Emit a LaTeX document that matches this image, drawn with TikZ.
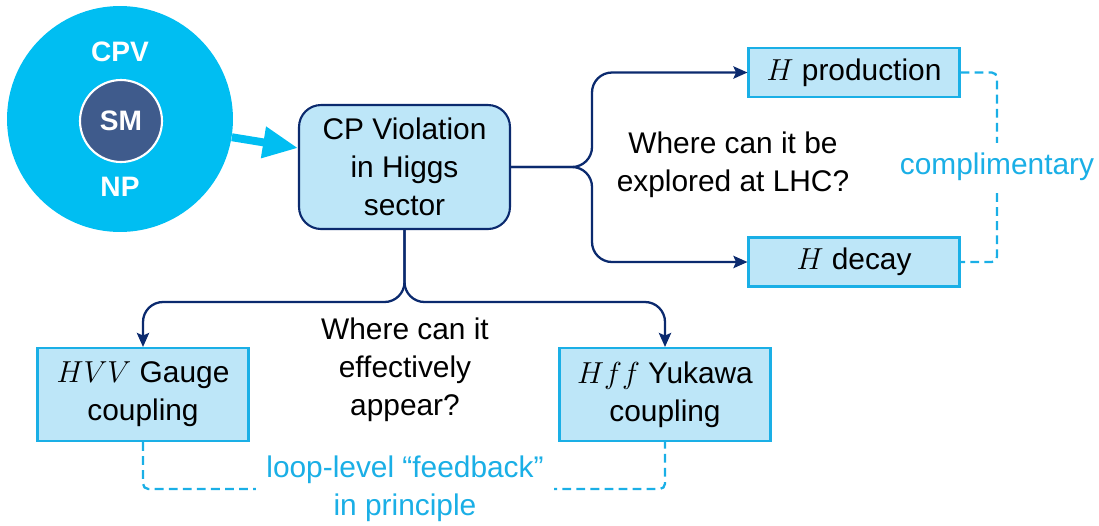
\documentclass[tikz,border=0pt]{standalone}
\usepackage{fontspec}
\setmainfont{Liberation Sans}
\usetikzlibrary{arrows.meta}

\definecolor{npcyan}{HTML}{00BEF2}
\definecolor{boxfill}{HTML}{BDE6F8}
\definecolor{navy}{HTML}{0B2A6E}
\definecolor{smblue}{HTML}{3F5B8C}
\definecolor{textcyan}{HTML}{1AAFE6}

\begin{document}
\begin{tikzpicture}[x=0.02cm, y=-0.02cm,
    every node/.style={font=\fontsize{17}{21.5}\selectfont},
    topic/.style={draw=navy, line width=1.2pt, fill=boxfill, rounded corners=0.44cm,
      align=center, minimum width=4.22cm, minimum height=2.48cm, inner sep=0pt},
    leaf/.style={draw=textcyan, line width=1.2pt, fill=boxfill, align=center,
      minimum width=4.22cm, inner sep=0pt},
    link/.style={draw=navy, line width=1.3pt, rounded corners=0.4cm,
      -{Stealth[length=8pt, width=7pt, inset=1.5pt]}},
    feedback/.style={draw=textcyan, line width=1.3pt, dash pattern=on 5pt off 3pt,
      rounded corners=3pt},
    note/.style={text=textcyan, fill=white, align=center, inner xsep=6pt},
    bigword/.style={text=white, font=\fontsize{16}{19}\selectfont\bfseries}]
  \useasboundingbox (0,0) rectangle (1099,525);

  % the CPV / NP / SM circles
  \node[circle, fill=npcyan, minimum size=4.52cm, inner sep=0pt] (np) at (120,119) {};
  \node[circle, fill=smblue, draw=white, line width=1.2pt, minimum size=1.64cm,
    inner sep=0pt, bigword] (sm) at (121,121) {SM};
  \node[bigword] (cpv) at (120,52) {CPV};
  \node[bigword] (npl) at (120,187) {NP};

  \node[topic] (cp) at (404.5,167) {CP Violation\\in Higgs\\sector};

  \draw[npcyan, line width=4.5pt, -{Triangle[length=0.7cm, width=0.6cm]}]
    (np) -- ([yshift=0.38cm]cp.west);

  % production and decay
  \node[leaf, minimum height=0.98cm] (prod) at (854,72.5) {$H$ production};
  \node[leaf, minimum height=0.98cm] (decay) at (854,262) {$H$ decay};
  \node (lhc) at (733,165) [align=center] {Where can it be\\explored at LHC?};

  \coordinate (rb) at (592,167);
  \draw[link] (cp.east) -- (rb) -- (rb |- prod.west) -- (prod.west);
  \draw[link] (cp.east) -- (rb) -- (rb |- decay.west) -- (decay.west);

  \coordinate (cr) at (997,167);
  \draw[feedback] (prod.east) -- (prod.east -| cr) -- (decay.east -| cr) -- (decay.east);
  \node[note, inner ysep=6pt] (compl) at (cr) {complimentary};

  % couplings
  \node[leaf, minimum height=1.86cm] (hvv) at (143,394.5) {$HVV$ Gauge\\coupling};
  \node[leaf, minimum height=1.86cm] (hff) at (665,394.5) {$Hff$ Yukawa\\coupling};
  \node (eff) at (405,370) [align=center] {Where can it\\effectively\\appear?};

  \coordinate (bb) at (404.5,302);
  \draw[link] (cp.south) -- (bb) -- (bb -| hvv.north) -- (hvv.north);
  \draw[link] (cp.south) -- (bb) -- (bb -| hff.north) -- (hff.north);

  \coordinate (lb) at (405,489);
  \draw[feedback] (hvv.south) -- (hvv.south |- lb) -- (hff.south |- lb) -- (hff.south);
  \node[note] (loop) at (lb) {loop-level ``feedback''\\in principle};
\end{tikzpicture}
\end{document}
